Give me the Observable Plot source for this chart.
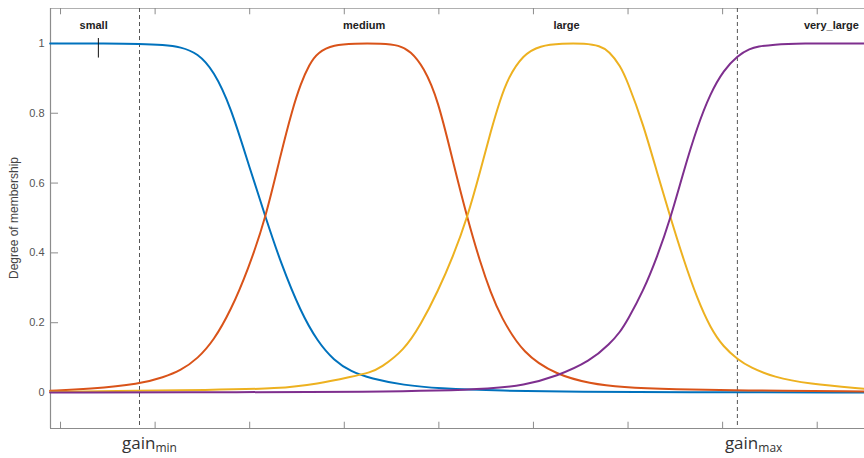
<!DOCTYPE html>
<html>
<head>
<meta charset="utf-8">
<script src="https://cdn.jsdelivr.net/npm/d3@7"></script>
<script src="https://cdn.jsdelivr.net/npm/@observablehq/plot@0.6"></script>
<style>
  html, body { margin: 0; padding: 0; background: #fff; }
  #chart svg { display: block; }
</style>
</head>
<body>
<div id="chart"></div>
<script>
// Membership functions of the gain input, sampled as [gain, degree] pairs
const smallMF = [
  [-0.11, 1.0], [0.5, 1.0], [0.84, 0.999], [1.09, 0.996], [1.27, 0.99], [1.45, 0.972],
  [1.62, 0.922], [1.8, 0.818], [1.98, 0.66], [2.17, 0.5], [2.33, 0.37], [2.54, 0.23],
  [2.72, 0.145], [2.89, 0.092], [3.07, 0.06], [3.28, 0.04], [3.63, 0.021], [3.99, 0.012],
  [4.65, 0.005], [5.5, 0.002], [6.5, 0.001], [8.5, 0.0]
];
const mediumMF = [
  [-0.11, 0.005], [0.3, 0.01], [0.84, 0.024], [1.09, 0.044], [1.27, 0.063], [1.45, 0.097],
  [1.62, 0.149], [1.8, 0.235], [1.98, 0.35], [2.17, 0.5], [2.33, 0.685], [2.45, 0.81],
  [2.54, 0.885], [2.63, 0.94], [2.72, 0.975], [2.89, 0.996], [3.1, 1.0], [3.4, 1.0],
  [3.58, 0.995], [3.7, 0.978], [3.84, 0.932], [3.99, 0.84], [4.15, 0.66], [4.3, 0.5],
  [4.44, 0.37], [4.55, 0.285], [4.65, 0.22], [4.89, 0.11], [5.25, 0.05], [5.6, 0.026],
  [5.92, 0.015], [6.5, 0.009], [7.16, 0.006], [8.5, 0.003]
];
const largeMF = [
  [-0.11, 0.002], [0.84, 0.005], [1.5, 0.007], [2.33, 0.011], [2.72, 0.025], [3.07, 0.045],
  [3.28, 0.058], [3.38, 0.07], [3.63, 0.12], [3.81, 0.195], [3.99, 0.29], [4.15, 0.39],
  [4.3, 0.5], [4.44, 0.636], [4.55, 0.75], [4.65, 0.84], [4.73, 0.9], [4.89, 0.968],
  [5.07, 0.994], [5.3, 1.0], [5.55, 1.0], [5.7, 0.993], [5.8, 0.978], [5.92, 0.935],
  [5.99, 0.894], [6.16, 0.77], [6.31, 0.627], [6.45, 0.5], [6.59, 0.378], [6.73, 0.27],
  [6.87, 0.185], [7.01, 0.13], [7.16, 0.095], [7.29, 0.072], [7.54, 0.044], [7.9, 0.025],
  [8.5, 0.011]
];
const veryLargeMF = [
  [-0.11, 0.0], [2.0, 0.001], [3.28, 0.002], [4.0, 0.005], [4.55, 0.011], [4.89, 0.02],
  [5.25, 0.047], [5.6, 0.09], [5.81, 0.14], [5.92, 0.175], [5.99, 0.205], [6.16, 0.29],
  [6.31, 0.39], [6.45, 0.5], [6.59, 0.636], [6.73, 0.76], [6.87, 0.857], [7.01, 0.923],
  [7.16, 0.966], [7.29, 0.985], [7.37, 0.991], [7.54, 0.997], [7.8, 1.0], [8.5, 1.0]
];

const mfNames = ["small", "medium", "large", "very_large"];
const mfColors = ["#0072BD", "#D95319", "#EDB120", "#7E2F8E"];
// where each function's name is written above its plateau
const mfLabelX = [0.35, 3.21, 5.35, 8.15];

const xTicks = [0, 1, 2, 3, 4, 5, 6, 7, 8];
const yTicks = [0, 0.2, 0.4, 0.6, 0.8, 1];
const yTickLabels = ["0", "0.2", "0.4", "0.6", "0.8", "1"];

const gainMin = 0.835;
const gainMax = 7.156;
const cursorX = 0.4;

const xDomain = [-0.106, 8.5];
const yDomain = [-0.103, 1.1];

const series = [smallMF, mediumMF, largeMF, veryLargeMF];
const rows = series.flatMap((pts, i) => pts.map(([x, y]) => ({x, y, mf: mfNames[i]})));
const labels = mfNames.map((name, i) => ({name, x: mfLabelX[i], y: 1.052}));
const tickLen = 0.085;   // inward tick length on the y axis (gain units)
const tickLenY = 0.018;  // inward tick length on the x axis (degree units)

const plot = Plot.plot({
  width: 864,
  height: 458,
  marginLeft: 50,
  marginRight: 0,
  marginTop: 8,
  marginBottom: 30,
  style: {fontFamily: "'Liberation Sans', Arial, sans-serif", fontSize: "11px", color: "#4d4d4d"},
  x: {domain: xDomain, axis: null},
  y: {domain: yDomain, axis: null},
  color: {domain: mfNames, range: mfColors},
  marks: [
    // box edges
    Plot.ruleY([yDomain[1]], {stroke: "#b0b0b0", strokeWidth: 1}),
    Plot.ruleY([yDomain[0]], {stroke: "#8c8c8c", strokeWidth: 1.2}),
    Plot.ruleX([xDomain[0]], {stroke: "#8c8c8c", strokeWidth: 1.2}),
    // inward ticks
    Plot.ruleX(xTicks, {y1: yDomain[0], y2: yDomain[0] + tickLenY, stroke: "#8c8c8c"}),
    Plot.ruleX(xTicks, {y1: yDomain[1], y2: yDomain[1] - tickLenY, stroke: "#8c8c8c"}),
    Plot.ruleY(yTicks, {x1: xDomain[0], x2: xDomain[0] + tickLen, stroke: "#8c8c8c"}),
    Plot.text(yTicks, {
      x: xDomain[0], y: d => d, text: (d, i) => yTickLabels[i],
      textAnchor: "end", dx: -6, fill: "#555", fontSize: 11
    }),
    // gain limits
    Plot.ruleX([gainMin, gainMax], {stroke: "#555", strokeDasharray: "4,3", strokeWidth: 1}),
    // membership curves
    Plot.line(rows, {x: "x", y: "y", z: "mf", stroke: "mf", strokeWidth: 2, curve: "basis"}),
    // function names
    Plot.text(labels, {x: "x", y: "y", text: "name", fontWeight: "bold", fill: "#222", fontSize: 11}),
    // text cursor beside "small"
    Plot.ruleX([cursorX], {y1: 1.014, y2: 0.958, stroke: "#111", strokeWidth: 1})
  ]
});

const svg = d3.select(plot);
svg.style("overflow", "visible");
const xs = plot.scale("x");

// y axis title
svg.append("text")
  .attr("transform", "translate(18,218) rotate(-90)")
  .attr("text-anchor", "middle")
  .attr("fill", "#444")
  .style("font-family", "'Liberation Sans', Arial, sans-serif")
  .style("font-size", "12px")
  .text("Degree of membership");

// gain limit labels with subscripts
function gainLabel(value, sub, dx) {
  const t = svg.append("text")
    .attr("x", xs.apply(value) + dx)
    .attr("y", 449)
    .attr("text-anchor", "start")
    .attr("fill", "#333")
    .style("font-family", "'Open Sans', Lato, sans-serif")
    .style("font-size", "17px");
  t.append("tspan").text("gain");
  t.append("tspan").attr("dy", 3).style("font-size", "12px").text(sub);
}
gainLabel(gainMin, "min", -17);
gainLabel(gainMax, "max", -12);

document.getElementById("chart").appendChild(plot);
</script>
</body>
</html>
